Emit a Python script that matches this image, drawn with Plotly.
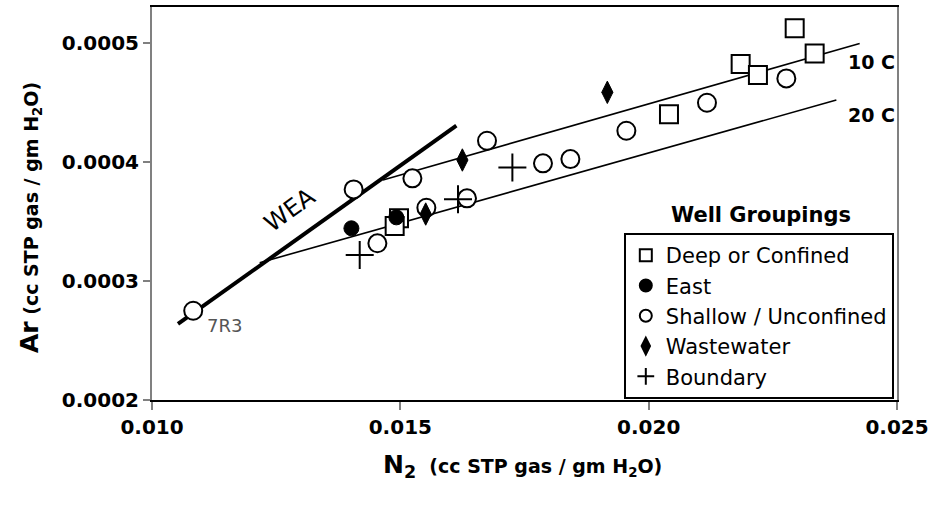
import plotly.graph_objects as go

# ---------------- data ----------------
deep_x = [0.014973, 0.014886, 0.020409, 0.021852, 0.022200, 0.022940, 0.023342]
deep_y = [0.0003527, 0.0003462, 0.0004401, 0.0004824, 0.0004731, 0.0005124, 0.0004913]

east_x = [0.014015, 0.014920]
east_y = [0.0003443, 0.0003535]

shallow_x = [0.010830, 0.014060, 0.014538, 0.015243, 0.015524, 0.016342,
             0.016745, 0.017872, 0.018424, 0.019551, 0.021174, 0.022772]
shallow_y = [0.0002750, 0.0003770, 0.0003317, 0.0003863, 0.0003616, 0.0003695,
             0.0004179, 0.0003989, 0.0004025, 0.0004263, 0.0004498, 0.0004703]

waste_x = [0.015511, 0.016249, 0.019168]
waste_y = [0.0003563, 0.0004017, 0.0004586]

bound_x = [0.014182, 0.016161, 0.017256]
bound_y = [0.0003218, 0.0003687, 0.0003955]

wea_x = [0.010523, 0.016128]
wea_y = [0.0002639, 0.0004305]
c10_x = [0.014651, 0.024248]
c10_y = [0.0003849, 0.0004997]
c20_x = [0.012168, 0.023779]
c20_y = [0.0003154, 0.0004521]

x_ticks = [0.010, 0.015, 0.020, 0.025]
x_tick_labels = ["0.010", "0.015", "0.020", "0.025"]
y_ticks = [0.0002, 0.0003, 0.0004, 0.0005]
y_tick_labels = ["0.0002", "0.0003", "0.0004", "0.0005"]

FONT = "DejaVu Sans"

fig = go.Figure()

# reference lines
fig.add_trace(go.Scatter(x=wea_x, y=wea_y, mode="lines", line=dict(color="black", width=4),
                         showlegend=False, hoverinfo="skip"))
fig.add_trace(go.Scatter(x=c10_x, y=c10_y, mode="lines", line=dict(color="black", width=1.6),
                         showlegend=False, hoverinfo="skip"))
fig.add_trace(go.Scatter(x=c20_x, y=c20_y, mode="lines", line=dict(color="black", width=1.6),
                         showlegend=False, hoverinfo="skip"))

# markers
fig.add_trace(go.Scatter(x=deep_x, y=deep_y, mode="markers", name="Deep or Confined", legendrank=1,
                         marker=dict(symbol="square", size=18, color="white",
                                     line=dict(color="black", width=2))))
fig.add_trace(go.Scatter(x=shallow_x, y=shallow_y, mode="markers", name="Shallow / Unconfined", legendrank=3,
                         marker=dict(symbol="circle", size=18, color="white",
                                     line=dict(color="black", width=2))))
fig.add_trace(go.Scatter(x=east_x, y=east_y, mode="markers", name="East", legendrank=2,
                         marker=dict(symbol="circle", size=15, color="black",
                                     line=dict(color="black", width=1))))
fig.add_trace(go.Scatter(x=waste_x, y=waste_y, mode="markers", name="Wastewater", legendrank=4,
                         marker=dict(symbol="diamond-tall", size=16, color="black",
                                     line=dict(color="black", width=1))))
fig.add_trace(go.Scatter(x=bound_x, y=bound_y, mode="markers", name="Boundary", legendrank=5,
                         marker=dict(symbol="cross-thin", size=20, color="black",
                                     line=dict(color="black", width=2))))

fig.update_layout(
    width=931, height=510,
    margin=dict(l=152, r=34, t=7, b=110, autoexpand=False),
    paper_bgcolor="white", plot_bgcolor="white",
    font=dict(family=FONT, color="black"),
    showlegend=True,
    legend=dict(x=0.6333, y=0.4249, xanchor="left", yanchor="top",
                bgcolor="white", bordercolor="black", borderwidth=2,
                font=dict(family=FONT, size=21, color="black"),
                itemsizing="constant", tracegroupgap=0),
    xaxis=dict(range=[0.010, 0.025], tickvals=x_ticks, ticktext=x_tick_labels,
               ticks="outside", ticklen=8, tickwidth=2, tickcolor="#808080",
               showline=True, linecolor="black", linewidth=2, mirror=True,
               showgrid=False, zeroline=False,
               tickfont=dict(family=FONT, size=20, color="black", weight="bold")),
    yaxis=dict(range=[0.0002, 0.0005303], tickvals=y_ticks, ticktext=y_tick_labels,
               ticks="outside", ticklen=7, tickwidth=2, tickcolor="#808080",
               showline=True, linecolor="#808080", linewidth=2, mirror=True,
               showgrid=False, zeroline=False,
               tickfont=dict(family=FONT, size=20, color="black", weight="bold")),
)

ann = []
ann.append(dict(text="<b>Well Groupings</b>", xref="paper", yref="paper", x=0.8168, y=0.4707,
                showarrow=False, font=dict(family=FONT, size=21, color="black"),
                xanchor="center", yanchor="middle"))
ann.append(dict(text="WEA", xref="x", yref="y", x=0.012772, y=0.0003597, textangle=-36,
                showarrow=False, font=dict(family=FONT, size=24, color="black")))
ann.append(dict(text="7R3", xref="x", yref="y", x=0.011464, y=0.0002622,
                showarrow=False, font=dict(family=FONT, size=18, color="#555555")))
ann.append(dict(text="<b>10 C</b>", xref="x", yref="y", x=0.025, y=0.0004843, xanchor="right",
                showarrow=False, font=dict(family=FONT, size=19, color="black")))
ann.append(dict(text="<b>20 C</b>", xref="x", yref="y", x=0.025, y=0.0004395, xanchor="right",
                showarrow=False, font=dict(family=FONT, size=19, color="black")))
ann.append(dict(text="<b><span style='font-size:25px'>Ar</span> (cc STP gas / gm H<sub>2</sub>O)</b>",
                xref="paper", yref="paper", x=-0.1637, y=0.4631, xanchor="center", yanchor="middle",
                textangle=-90, showarrow=False, font=dict(family=FONT, size=19, color="black")))
ann.append(dict(text="<b><span style='font-size:25px'>N<sub>2</sub></span>  (cc STP gas / gm H<sub>2</sub>O)</b>",
                xref="paper", yref="paper", x=0.4978, y=-0.1679, xanchor="center", yanchor="middle",
                showarrow=False, font=dict(family=FONT, size=19, color="black")))
fig.update_layout(annotations=ann)

fig.write_html("out.html", config={"displayModeBar": False},
               post_script="document.body.style.margin='0px';")
